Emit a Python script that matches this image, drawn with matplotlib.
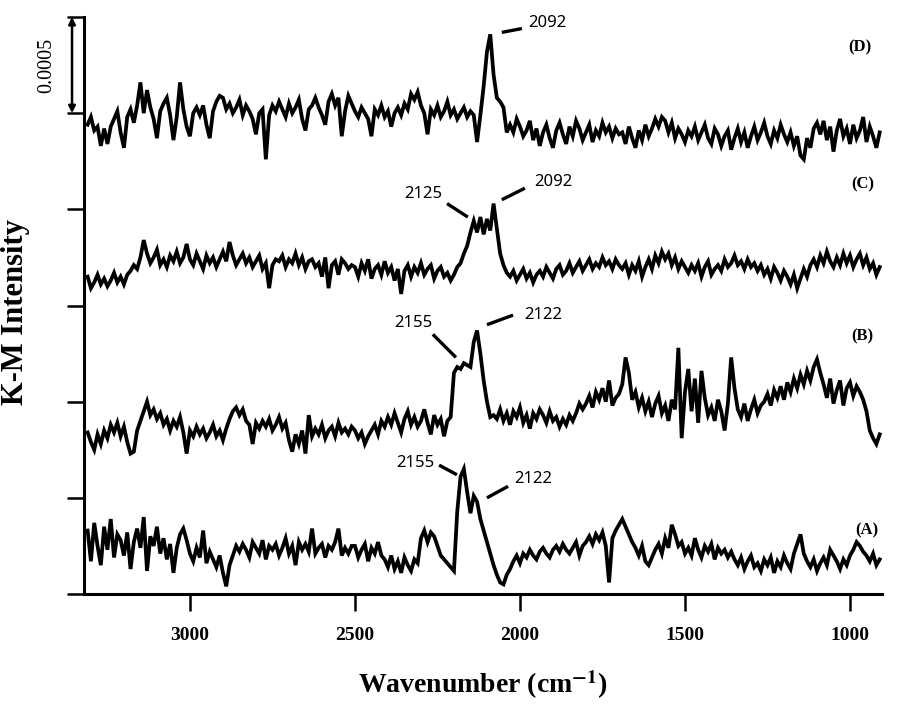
import numpy as np
import matplotlib
matplotlib.use("Agg")
import matplotlib.pyplot as plt
from matplotlib.transforms import blended_transform_factory

plt.rcParams["mathtext.fontset"] = "stix"

# ---------------- data ----------------
# wavenumber grid (cm^-1), 3310 -> 910 every 10
wavenumber = np.arange(3310, 905, -10)

# K-M intensity of each spectrum relative to its own baseline, units of 1e-5
spec_D = [
    -2, 2, -5, -3, -13, -4, -12, -3, 1, 5, -6, -14,
    2, 6, -1, 8, 20, 4, 16, 7, 1, -9, 5, 9, 12, 3, -10, 2, 20, 6, -3, -8,
    4, 7, 3, 8, -2, -9, 5, 10, 13, 12, 6, 9, 4, 7, 11, 3, 8, 5, 1, -7, 4, 6,
    -20,
    3, 8, 5, 10, 6, 2, 9, 4, 7, 11, 1, -5, 6, 8, 12, 7, 3, -2, 10, 14, 8, 12, -8, 5, 13, 9,
    5, 2, 7, 4, 1, -8, 6, 3, 8, 2, 5, -3, 4, 7, 3, 9, 6, 14, 11, 15,
    8, 4, -7, 6, 3, 8, 2, 5, 10, 3, 6, 1, 4, 7, 2, 5, 3, -11,
    3, 18, 36, 45, 24, 12, 10, 7, -6,
    -2, -6, 1, -3, -8, -5, 0, -10, -4, -13, -6, -2, -9, -14, -5, -1, -7, -12, -3, -8,
    0, -4, -10, -6, -2, -11, -5, -8, -1, -6, -3, -9, -4, -7,
    -6, -12, -3, -9, -14, -5, -10, -2, -8, -4,
    1, -3, 2, 0, -6, -1, -9, -4, -7, -11,
    -5, -8, -3, -10, -6, -2, -9, -12, -4, -7,
    -13, -8, -5, -15, -9, -4, -11, -6, -14, -8,
    -3, -10, -6, -1, -8, -12, -5, -9, -2, -7,
    -11, -6, -13, -8, -18, -20, -9, -14, -4, -1,
    -7, 0, -10, -3, -16, -5, 1, -8, -4, -12,
    -2, -9, -5, 2, -11, -3, -8, -14, -6,
]

spec_C = [
    -3, -9, -6, -2, -7, -4, -8, -5, -1, -6, -3, -7, -2,
    0, 3, 1, 7, 16,
    9, 4, 7, 11, 3, 6, 2, 8, 5, 10,
    4, 7, 14, 6, 3, 9, 5, 1, 8, 4,
    7, 2, 6, 10, 5, 15, 8, 3, 6, 9,
    4, 7, 2, 5, 8, 1, 4, -9, 3, 6,
    5, 8, 2, 6, 4, 9, 3, 7, 1, 5,
    6, 2, 4, -3, 7, -9, 3, 5, -2, 6,
    4, 1, 3,
    2, -3, 4, 0, 6, -4, 1, 3, -2, 5,
    -1, 2, -5, 1, -12, 0, 3, -3, 2, -1,
    4, -2, 1, 3, -4, 0, 2, -3, -1, -5,
    -2, 2, 4, 9, 13, 20,
    26, 20, 28, 19, 27, 21, 35, 22, 9, 3, -1,
    -3, 0, -5, -2, 1, -4, -1, -6, -2, 0,
    -3, 2, -1, -4, 1, 3, -2, 0, 4, -1,
    2, 5, 0, 3, 6, 1, 4, 2, 7, 3,
    5, 1, 6, 3,
    1, 4, -2, 3, 0, 5, -3, 2, 6, 1,
    8, 4, 10, 6, 9, 3, 7, 1, 5, 2,
    -1, 3, 0, 4, -3, 2, 5, -2, 1, 3,
    0, 6, 2, 4, 8, 3, 5, 1, 6, 2,
    4, 0, 3, -2, 1, -4, 2, -1, -5, 0,
    -3, -7, -2, -9, -4, 1, -3, 3, 6, 2,
    8, 4, 10, 5, 2, 7, 3, 9, 4, 8,
    2, 6, 9, 3, 7, 1, 4, -2, 2,
]

spec_B = [
    -3, -8, -12, -4, -9, -2, -6,
    1, -3, 2, -5, 0, -8, -14, -13, -2, 3,
    8, 13, 6, 9, 4, 7,
    1, 4, -2, 3, 0, 5, -3, -14,
    -2, -5, 0, -4, -1, -6, -3, 1, -5, -2, -7, -1,
    4, 8, 10, 6, 9, 3,
    1, -9, 2, -1, 3, 0, 4, -2, 1, 5, -1, 2,
    -7, -13, -4, -9, -2, -14, 6, -5,
    -1, -4, 1, -6, -2, 0, -5, 2, -3, -1, -4, 0,
    -2, -6, -3, -9, -5, -2, 1, -4,
    3, 0, 5, 1, 7, 2, -3, 4, 8, 1, 5, 0, 3, 9, 2, -4, 6, 1, 4, -5, 3, 5,
    28, 31, 30, 33, 32, 31, 44, 50, 38, 24, 13, 5, 6,
    4, 9, 3, 7, 1, 8, 5, 10, 2, 6, -1, 7, 4, 9,
    6, 2, 8, 3, 5, 0, 4, 1, 6, 3, 7, 12, 9,
    12, 16, 10, 18, 14, 20, 13, 24, 11, 15, 17,
    22, 36, 28, 14, 18,
    10, 15, 8, 13, 5, 12, 16, 7, 11, 3, 14, 9,
    41, -6, 18, 30, 8, 25, 2, 29, 15, 6,
    10, 3, 14, 8, -2, 12, 36, 20, 9,
    5, 12, 3, 9, 14, 7, 11,
    13, 17, 11, 19, 15, 21, 14, 23, 18, 25, 20, 27, 22, 29, 24, 31, 35, 28,
    22, 15, 25, 12, 19, 24, 11, 20, 23, 16, 21, 18, 14,
    8, -2, -6, -9, -4,
]

spec_A = [
    10, -6, 14, 2, -8, 12, 0, 16, -4, 8,
    5, -3, 9, -10, 4, 11, 1, 17, -11, 7, 2, 12, -2, 6, -5, 3, -12, 1,
    8, 11, 5,
    -2, -6, 1, -4, 10, -7, -1, -5, -9, -3, -12, -19, -8,
    -3, 2, -1, 3, 0, -4, 4, 1, -2, 5, -5, 2, 0, 3, -3, 1, 6, -2, 2, -8,
    4, 0, 3, -1, 11, -2, 1, 3, -4, 2, 0, 4, 11, -3, 1, -2, 2,
    2, -4, 0, 3, -6, 1, -2, 4, -3,
    -5, -9, -3, -10, -6, -12, -4, -8, -11, -5, -7,
    6, 10, 4, 9, 7, 2,
    -3, -5, -7, -9, -11,
    20, 38, 42, 30, 19, 28, 25, 16, 10, 4, -2, -8, -13, -17, -18, -13, -10,
    -6, -3, -7, -2, -4, 0, -3, -5, -1, 1, -2, -4, 0, 2, -1, 3, 0, -2, 1, 4, -3, 2,
    4, 7, 3, 8, 5, 9, 2, -17, 6, 10, 13,
    16, 12, 8, 4, 1, -3, 2, -6, -8,
    -4, 0, 3, -2, 6, 1, 13, 8, 2,
    4, -2, 1, -3, 6, 0, -4, 2, -1, 3, -5, 1, -2, 0, -4, -1,
    -5, -8, -4, -10, -6, -3, -9, -7, -11, -5, -8, -4, -12, -6, -9, -3, -7, -10, -2, 3, 8,
    -2, -6, -9, -5, -11, -7, -4, -8, 0, -3, -6, -10, -5, -8, -3,
    0, 4, 2, -1, -3, -6, -2, -8, -5,
]

series_names = ["(A)", "(B)", "(C)", "(D)"]
series_data = [spec_A, spec_B, spec_C, spec_D]
offsets = [23, 87, 168, 246]          # stacking offsets, units of 1e-5
UNIT = 1e-5

# peak labels: (text, text_x, text_y, line_x0, line_y0, line_x1, line_y1) in cm^-1 / 1e-5 units
peak_labels = [
    ("2092", 1918, 297, 2055, 292, 1994, 294),
    ("2092", 1900, 214, 2055, 205, 1985, 211),
    ("2125", 2294, 208, 2221, 203, 2158, 196),
    ("2155", 2324, 141, 2264, 135, 2194, 123),
    ("2122", 1930, 145, 2100, 140, 2021, 145),
    ("2155", 2318, 68, 2245, 67, 2191, 62),
    ("2122", 1961, 60, 2100, 50, 2036, 56),
]
letter_pos = [(948, 33), (964, 134), (961, 213), (970, 284)]

x_ticks = [3000, 2500, 2000, 1500, 1000]
y_ticks = [0, 0.0005, 0.0010, 0.0015, 0.0020, 0.0025, 0.0030]

# ---------------- plot ----------------
serif = ["Liberation Serif", "DejaVu Serif"]
fig = plt.figure(figsize=(9.08, 7.04), dpi=100)
ax = fig.add_axes([84 / 908, 1 - 594 / 704, 798 / 908, 577 / 704])

for data, off in zip(series_data, offsets):
    y = (np.asarray(data) + off) * UNIT
    ax.plot(wavenumber, y, color="black", lw=2.7, solid_joinstyle="miter")

ax.set_xlim(3321, 903)
ax.set_ylim(0, 0.003)
ax.set_xticks(x_ticks)
ax.set_yticks(y_ticks)
ax.set_yticklabels([])
ax.set_xticklabels([str(t) for t in x_ticks], fontfamily=serif, fontsize=14,
                   fontweight="bold")
ax.tick_params(axis="x", direction="out", length=12, width=1.8, pad=12)
ax.tick_params(axis="y", direction="out", length=12, width=1.8)
for s in ["top", "right"]:
    ax.spines[s].set_visible(False)
for s in ["left", "bottom"]:
    ax.spines[s].set_linewidth(2.2)

ax.set_xlabel(r"Wavenumber (cm$^{\mathbf{-1}}$)", fontfamily=serif,
              fontweight="bold", fontsize=20)
ax.xaxis.set_label_coords(0.5, -(668 - 594) / 577)
ax.set_ylabel("K-M Intensity", fontfamily=serif, fontweight="bold", fontsize=22)
ax.yaxis.set_label_coords((30 - 84) / 798, (594 - 312) / 577)

for txt, tx, ty, x0, y0, x1, y1 in peak_labels:
    ax.text(tx, ty * UNIT, txt, fontfamily=["Noto Sans", "DejaVu Sans"], fontsize=12,
            ha="center", va="center")
    ax.plot([x0, x1], [y0 * UNIT, y1 * UNIT], color="black", lw=2.4,
            solid_capstyle="butt")

for name, (lx, ly) in zip(series_names, letter_pos):
    ax.text(lx, ly * UNIT, name, fontfamily=serif, fontweight="bold",
            fontsize=12, ha="center", va="center")

# scale bar 0.0005
trans = blended_transform_factory(ax.transAxes, ax.transData)
ax.annotate("", xy=(-0.015, 0.0030), xytext=(-0.015, 0.0025),
            xycoords=trans, textcoords=trans,
            arrowprops=dict(arrowstyle="<|-|>", color="black", lw=1.8,
                            mutation_scale=10, shrinkA=0, shrinkB=0),
            annotation_clip=False)
ax.text(-0.047, 0.00275, "0.0005", transform=trans, rotation=90,
        fontfamily=serif, fontsize=14.5, ha="center", va="center")

fig.savefig("out.png", dpi=100)
